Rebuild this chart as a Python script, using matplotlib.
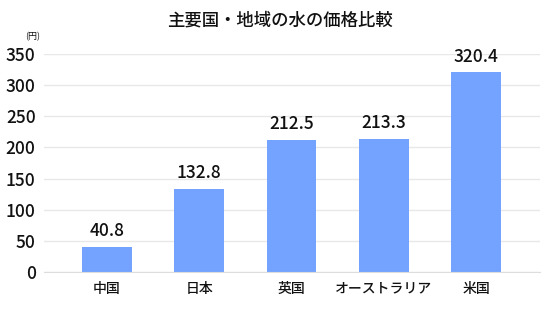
import matplotlib
matplotlib.use("Agg")
import matplotlib.pyplot as plt

plt.rcParams['font.family'] = ['Noto Sans CJK JP', 'DejaVu Sans']

countries = ['中国', '日本', '英国', 'オーストラリア', '米国']
prices = [40.8, 132.8, 212.5, 213.3, 320.4]
yticks = [0, 50, 100, 150, 200, 250, 300, 350]

fig = plt.figure(figsize=(5.6, 3.09), dpi=100)
ax = fig.add_axes([44/560, 1-272/309, 496/560, 218/309])

x = range(len(countries))
ax.bar(x, prices, width=0.54, color='#74a3ff', zorder=2)
for xi, v in zip(x, prices):
    ax.text(xi, v + 11, f"{v:.1f}", ha='center', va='bottom', fontsize=12.5,
            color='#111111', weight='medium')

ax.set_xlim(-0.68, 4.69)
ax.set_ylim(0, 350)
ax.set_yticks(yticks)
ax.set_yticklabels([str(t) for t in yticks], fontsize=12.5, color='#111111', weight='medium')
ax.set_xticks(list(x))
ax.set_xticklabels(countries, fontsize=10, color='#111111', weight='medium')
ax.tick_params(axis='both', length=0)
ax.tick_params(axis='y', pad=6)
ax.tick_params(axis='x', pad=7)
ax.grid(axis='y', color='#e8e8e8', linewidth=1, zorder=0)
for s in ['top', 'right', 'left']:
    ax.spines[s].set_visible(False)
ax.spines['bottom'].set_color('#dddddd')

fig.text(280/560, 1-20/309, '主要国・地域の水の価格比較', ha='center', va='center',
         fontsize=12.5, color='#111111', weight='medium')
fig.text(33/560, 1-37/309, '(円)', ha='center', va='center', fontsize=6.5, color='#111111')

fig.savefig('out.png', dpi=100)
